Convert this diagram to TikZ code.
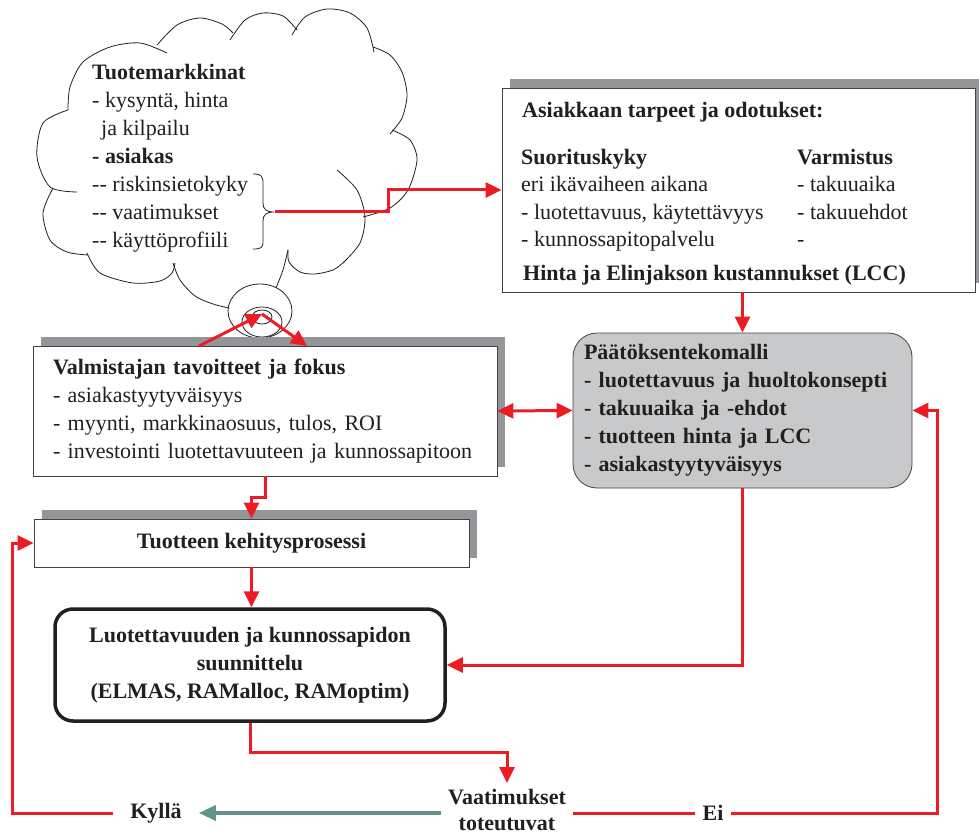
\documentclass[tikz,border=0pt]{standalone}
\usepackage{fontspec}
\setmainfont{Liberation Serif}
\usetikzlibrary{arrows.meta}
\usetikzlibrary{calc}
\usetikzlibrary{shadows}
\definecolor{punainen}{RGB}{237,28,36}
\definecolor{varjo}{RGB}{147,149,152}
\definecolor{harmaa}{RGB}{200,201,203}
\definecolor{teksti}{RGB}{35,31,32}
\definecolor{turkoosi}{RGB}{94,147,142}
\tikzset{
  lihava/.style={font=\fontsize{22}{28}\selectfont\bfseries},
  laatikko/.style={draw=teksti!85, line width=0.8pt, fill=white,
    drop shadow={shadow xshift=8pt, shadow yshift=9pt, opacity=1, fill=varjo}},
  nuoli/.style={draw=punainen, line width=3pt, -{Triangle[length=16pt, width=15pt]}},
  viiva/.style={draw=punainen, line width=3pt},
  pilvi/.style={draw=teksti, line width=0.8pt}
}

\begin{document}
\begin{tikzpicture}[x=1pt, y=-1pt, every node/.style={font=\fontsize{22}{28}\selectfont, text=teksti}]
        \useasboundingbox (0,0) rectangle (979,834);
        % pilvi
        \draw[pilvi] plot[smooth] coordinates {(77,192) (50,187) (37,157) (43,123) (68,110)};
        \draw[pilvi] plot[smooth] coordinates {(68,110) (70,87) (83,62) (110,47) (140,43) (167,53)};
        \draw[pilvi] plot[smooth] coordinates {(157,45) (177,25) (200,18) (222,24) (233,33)};
        \draw[pilvi] plot[smooth] coordinates {(230,40) (245,20) (263,13) (283,16) (297,30)};
        \draw[pilvi] plot[smooth] coordinates {(292,35) (305,17) (327,9) (350,13) (367,28) (374,52)};
        \draw[pilvi] plot[smooth] coordinates {(373,47) (390,55) (402,72) (407,95) (402,118) (390,134)};
        \draw[pilvi] plot[smooth] coordinates {(392,130) (410,140) (417,160) (408,190) (390,208) (363,217)};
        \draw[pilvi] plot[smooth] coordinates {(337,170) (357,190) (365,217) (360,243) (343,263)};
        \draw[pilvi] plot[smooth] coordinates {(288,250) (289,262) (300,272) (315,274) (333,270) (344,262)};
        \draw[pilvi] plot[smooth] coordinates {(276,288) (283,270) (288,250)};
        \draw[pilvi] plot[smooth] coordinates {(173,263) (180,280) (195,296) (213,304) (229,308)};
        \draw[pilvi] plot[smooth] coordinates {(87,253) (100,273) (133,283) (160,281) (172,273) (175,263)};
        \draw[pilvi] plot[smooth] coordinates {(53,188) (43,213) (50,240) (67,252) (88,255)};
        \draw[pilvi] (260,311) ellipse [x radius=32pt, y radius=27pt];
        \draw[pilvi] (262,322) ellipse [x radius=20pt, y radius=15pt];
        \draw[pilvi] (262,317) ellipse [x radius=10pt, y radius=7pt];
        \node[anchor=north west, align=left, inner sep=0pt] (markkinat) at (92,64)
            {\textbf{Tuotemarkkinat}\\- kysyntä, hinta\\\hspace*{9pt}ja kilpailu\\\textbf{- asiakas}\\-{}- riskinsietokyky\\-{}- vaatimukset\\-{}- käyttöprofiili};
        \draw[pilvi] (253,174) .. controls (261,174) and (263,176) .. (263,183) -- (263,203)
            .. controls (263,209) and (266,212) .. (274,212) .. controls (266,212) and (263,215) .. (263,221)
            -- (263,241) .. controls (263,248) and (261,249) .. (253,249);
        \coordinate (kaari) at (275,212);

        % laatikot
        \node[laatikko, minimum width=473pt, minimum height=204pt] (asiakas) at (738.5,190) {};
        \node[anchor=north west, inner sep=0pt, lihava] (tarpeet) at (522,102) {Asiakkaan tarpeet ja odotukset:};
        \node[anchor=north west, inner sep=0pt, align=left, font=\fontsize{22}{27.5}\selectfont] (suoritus) at (521,149)
            {\textbf{Suorituskyky}\\eri ikävaiheen aikana\\- luotettavuus, käytettävyys\\- kunnossapitopalvelu};
        \node[anchor=north west, inner sep=0pt, align=left, font=\fontsize{22}{27.5}\selectfont] (varmistus) at (797,149)
            {\textbf{Varmistus}\\- takuuaika\\- takuuehdot\\-};
        \node[anchor=north west, inner sep=0pt, lihava] (hinta) at (523,265) {Hinta ja Elinjakson kustannukset (LCC)};

        \node[laatikko, text width=424pt, inner xsep=20pt, minimum height=130pt, align=left] (valmistaja) at (265,411)
            {\textbf{Valmistajan tavoitteet ja fokus}\\- asiakastyytyväisyys\\- myynti, markkinaosuus, tulos, ROI\\- investointi luotettavuuteen ja kunnossapitoon};
        \node[laatikko, minimum width=435pt, minimum height=48pt, lihava] (kehitys) at (251.5,543) {Tuotteen kehitysprosessi};
        \node[draw=teksti, line width=3.5pt, fill=white, rounded corners=18pt, minimum width=390pt, minimum height=112pt, align=center, lihava] (suunnittelu) at (250,665)
            {Luotettavuuden ja kunnossapidon\\suunnittelu\\(ELMAS, RAMalloc, RAMoptim)};
        \node[draw=teksti!85, line width=0.8pt, fill=harmaa, rounded corners=24pt, text width=317pt, inner xsep=11pt, minimum height=155pt, align=left, lihava] (malli) at (742.5,410.5)
            {Päätöksentekomalli\\- luotettavuus ja huoltokonsepti\\- takuuaika ja -ehdot\\- tuotteen hinta ja LCC\\- asiakastyytyväisyys};

        \node[lihava, align=center, inner xsep=7pt, inner ysep=0pt, font=\fontsize{22}{26}\selectfont\bfseries] (vaatimukset) at (507,810) {Vaatimukset\\toteutuvat};
        \node[lihava, inner xsep=17pt] (kylla) at (156,813) {Kyllä};
        \node[lihava, inner xsep=7pt] (ei) at (713,813) {Ei};
        \coordinate (vasen) at (12,813);
        \coordinate (oikea) at (937,813);
        \coordinate (rengas) at (262,314);
        \coordinate (nuoliA) at (199,346);
        \coordinate (nuoliB) at (307,346);

        % nuolet
        \draw[nuoli] (kaari) -- ++(113,0) |- (asiakas.west);
        \draw[nuoli] (nuoliA) -- (rengas);
        \draw[nuoli] (rengas) -- (nuoliB);
        \draw[nuoli] (malli.north |- asiakas.south) -- (malli.north);
        \draw[nuoli, {Triangle[length=16pt, width=15pt]}-{Triangle[length=16pt, width=15pt]}] (valmistaja.east) -- (malli.west);
        \draw[nuoli] (valmistaja.south) -- ++(0,21) -| (kehitys.north);
        \draw[nuoli] (kehitys.south) -- (kehitys.south |- suunnittelu.north);
        \draw[nuoli] (malli.south) |- (suunnittelu.east);
        \draw[nuoli, shorten >=6pt] (suunnittelu.south) -- ++(0,30) -| (vaatimukset.north);
        \draw[turkoosi, line width=3.5pt, -{Triangle[length=17pt, width=15pt]}] (vaatimukset.west |- kylla.east) -- (kylla.east);
        \draw[nuoli] (kylla.west) -- (kylla.west -| vasen) |- (kehitys.west);
        \draw[viiva] (vaatimukset.east |- ei.west) -- (ei.west);
        \draw[nuoli] (ei.east) -- (ei.east -| oikea) |- (malli.east);
\end{tikzpicture}
\end{document}
